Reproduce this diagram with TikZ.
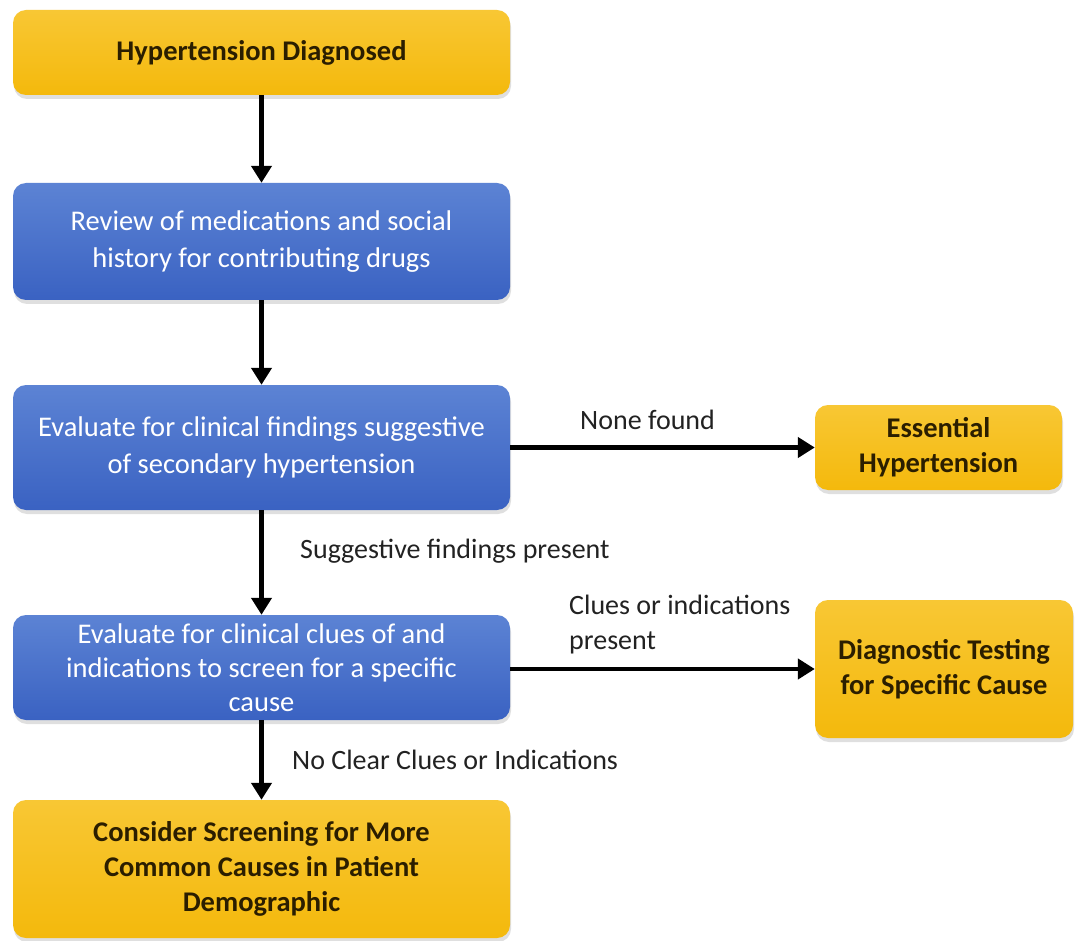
\documentclass[tikz,border=0pt]{standalone}
\usepackage{fontspec}
\setmainfont{Carlito}
\usetikzlibrary{arrows.meta,shadows}
\definecolor{ytop}{HTML}{F8C734}
\definecolor{ybot}{HTML}{F4B90C}
\definecolor{btop}{HTML}{5C83D4}
\definecolor{bbot}{HTML}{3A62C2}
\definecolor{ytext}{HTML}{2B1E00}
\definecolor{ltext}{HTML}{222222}
\tikzset{
  boxbase/.style={rectangle, rounded corners=13pt, align=center, inner sep=4pt,
    drop shadow={opacity=0.25, shadow xshift=1pt, shadow yshift=-4pt}},
  ybox/.style={boxbase, top color=ytop, bottom color=ybot, text=ytext,
    font=\fontsize{28.5}{35}\selectfont\bfseries},
  bbox/.style={boxbase, top color=btop, bottom color=bbot, text=white,
    font=\fontsize{28.5}{37}\selectfont},
  flow/.style={line width=4.5pt, -{Triangle[width=20pt,length=17pt]}},
  lbl/.style={text=ltext, font=\fontsize{28}{35}\selectfont, align=left, inner sep=0pt}
}
\begin{document}
\begin{tikzpicture}[x=1pt,y=-1pt]
\useasboundingbox[fill=white] (0,0) rectangle (1076,941);

\node[ybox, minimum width=497pt, minimum height=85pt] (diag) at (261.5,52.5)
  {Hypertension Diagnosed};
\node[bbox, minimum width=497pt, minimum height=117pt] (meds) at (261.5,241.5)
  {Review of medications and social\\history for contributing drugs};
\node[bbox, minimum width=497pt, minimum height=125pt] (eval) at (261.5,447.5)
  {Evaluate for clinical findings suggestive\\of secondary hypertension};
\node[bbox, minimum width=497pt, minimum height=105pt] (clues) at (261.5,667.5)
  {Evaluate for clinical clues of and\\[-3pt]indications to screen for a specific\\[-3pt]cause};
\node[ybox, minimum width=497pt, minimum height=138pt] (screen) at (261.5,869)
  {Consider Screening for More\\Common Causes in Patient\\Demographic};
\node[ybox, minimum width=247pt, minimum height=85pt] (ess) at (938.5,447.5)
  {Essential\\Hypertension};
\node[ybox, minimum width=258pt, minimum height=138pt] (test) at (944,669)
  {Diagnostic Testing\\for Specific Cause};

\draw[flow] (diag.south) -- (meds.north);
\draw[flow] (meds.south) -- (eval.north);
\draw[flow] (eval.south) -- (clues.north);
\draw[flow] (clues.south) -- (screen.north);
\draw[flow] (eval.east) -- (ess.west);
\draw[flow] (clues.east |- test.west) -- (test.west);

\node[lbl, anchor=west] (l1) at (580,420) {None found};
\node[lbl, anchor=west] (l2) at (300,551) {Suggestive findings present};
\node[lbl, anchor=west] (l3) at (569,625) {Clues or indications\\present};
\node[lbl, anchor=west] (l4) at (292,760) {No Clear Clues or Indications};
\end{tikzpicture}
\end{document}
